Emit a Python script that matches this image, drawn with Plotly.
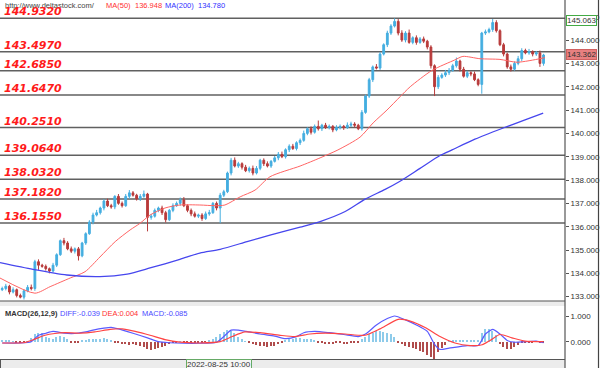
import plotly.graph_objects as go

# ---------------- data ----------------
closes = [
    133.35, 133.45, 133.20, 133.30, 133.05, 132.98, 133.25, 133.40, 133.35, 134.50,
    134.35, 134.30, 134.20, 134.10, 134.35, 134.80, 135.40, 135.30, 135.05, 134.95,
    135.05, 134.75, 135.30, 135.70, 136.20, 136.50, 136.60, 136.80, 137.10, 136.90,
    136.85, 137.30, 137.00, 136.90, 137.30, 137.45, 137.35, 137.20, 137.30, 137.40,
    136.40, 136.45, 136.70, 136.80, 136.60, 136.30, 136.70, 136.90, 137.00, 137.15,
    136.90, 136.70, 136.55, 136.45, 136.50, 136.35, 136.55, 136.60, 137.00, 136.80,
    137.35, 137.50, 138.30, 138.85, 138.60, 138.70, 138.55, 138.40, 138.50, 138.30,
    138.50, 138.85, 138.70, 138.60, 138.80, 138.95, 139.10, 139.00, 139.30, 139.45,
    139.35, 139.60, 139.70, 140.00, 140.20, 140.05, 140.30, 140.20, 140.35, 140.25,
    140.30, 140.15, 140.25, 140.30, 140.25, 140.35, 140.40, 140.35, 140.20, 140.90,
    141.60, 142.30, 142.85, 142.80, 143.40, 143.80, 144.30, 144.60, 144.80, 144.30,
    144.00, 144.30, 143.90, 144.10, 143.90, 144.05, 143.95, 143.70, 142.90, 142.00,
    142.40, 142.50, 142.60, 142.70, 142.90, 143.10, 142.75, 142.45, 142.60, 142.55,
    142.30, 142.10, 144.30, 144.35, 144.45, 144.75, 144.40, 143.80, 143.40, 142.85,
    142.75, 143.00, 143.20, 143.55, 143.45, 143.50, 143.40, 143.45, 143.00, 143.36,
]
first_open = 133.30

upper_wick = [
    0.08, 0.10, 0.06, 0.10, 0.05, 0.08, 0.06, 0.10, 0.12, 0.08,
    0.10, 0.06, 0.08, 0.05, 0.10, 0.06, 0.05, 0.12, 0.08, 0.10,
    0.06, 0.08, 0.05, 0.06, 0.08, 0.10, 0.12, 0.06, 0.08, 0.10,
    0.08, 0.05, 0.10, 0.08, 0.10, 0.12, 0.08, 0.06, 0.10, 0.15,
    0.05, 0.10, 0.08, 0.06, 0.10, 0.08, 0.06, 0.10, 0.08, 0.10,
    0.12, 0.06, 0.08, 0.10, 0.06, 0.08, 0.10, 0.12, 0.06, 0.08,
    0.10, 0.08, 0.06, 0.10, 0.12, 0.08, 0.06, 0.10, 0.08, 0.12,
    0.10, 0.06, 0.08, 0.10, 0.06, 0.08, 0.10, 0.12, 0.06, 0.08,
    0.10, 0.06, 0.08, 0.12, 0.06, 0.10, 0.08, 0.25, 0.06, 0.10,
    0.08, 0.06, 0.10, 0.08, 0.06, 0.12, 0.10, 0.08, 0.06, 0.10,
    0.06, 0.08, 0.06, 0.12, 0.08, 0.06, 0.10, 0.08, 0.13, 0.10,
    0.12, 0.08, 0.15, 0.06, 0.10, 0.08, 0.10, 0.06, 0.08, 0.06,
    0.10, 0.08, 0.12, 0.10, 0.08, 0.15, 0.06, 0.10, 0.08, 0.06,
    0.10, 0.06, 0.05, 0.10, 0.08, 0.15, 0.10, 0.06, 0.08, 0.06,
    0.10, 0.08, 0.12, 0.10, 0.08, 0.12, 0.06, 0.08, 0.10, 0.05,
]
lower_wick = [
    0.06, 0.08, 0.10, 0.06, 0.08, 0.05, 0.10, 0.06, 0.08, 0.10,
    0.20, 0.06, 0.08, 0.10, 0.06, 0.08, 0.05, 0.10, 0.06, 0.08,
    0.10, 0.20, 0.06, 0.08, 0.05, 0.10, 0.06, 0.08, 0.10, 0.06,
    0.08, 0.10, 0.06, 0.08, 0.05, 0.10, 0.06, 0.08, 0.10, 0.06,
    0.60, 0.10, 0.06, 0.08, 0.10, 0.12, 0.06, 0.08, 0.05, 0.10,
    0.06, 0.08, 0.10, 0.06, 0.08, 0.10, 0.06, 0.08, 0.05, 0.10,
    0.65, 0.08, 0.06, 0.10, 0.06, 0.08, 0.10, 0.06, 0.08, 0.10,
    0.06, 0.08, 0.10, 0.06, 0.08, 0.05, 0.10, 0.06, 0.08, 0.10,
    0.06, 0.08, 0.10, 0.06, 0.08, 0.10, 0.06, 0.08, 0.10, 0.06,
    0.08, 0.10, 0.06, 0.08, 0.10, 0.06, 0.08, 0.10, 0.06, 0.08,
    0.06, 0.08, 0.10, 0.06, 0.08, 0.06, 0.10, 0.08, 0.06, 0.10,
    0.08, 0.10, 0.06, 0.08, 0.10, 0.06, 0.08, 0.10, 0.12, 0.40,
    0.10, 0.06, 0.08, 0.10, 0.06, 0.08, 0.10, 0.06, 0.08, 0.10,
    0.06, 0.08, 0.40, 0.08, 0.06, 0.10, 0.08, 0.06, 0.10, 0.08,
    0.10, 0.06, 0.08, 0.10, 0.06, 0.08, 0.10, 0.08, 0.15, 0.10,
]

ma50_x = [-0.6, 9.0, 13.2, 18.7, 22.8, 26.9, 31.1, 35.2, 37.9, 40.7,
          44.8, 48.9, 54.4, 58.6, 61.3, 65.5, 69.6, 73.7, 82.0, 87.5,
          92.4, 98.5, 102.1, 105.9, 109.5, 112.3, 118.3, 124.6, 126.8, 131.5,
          137.0, 141.7, 148.0, 149.4]
ma50_v = [133.80, 133.15, 133.43, 133.80, 134.07, 134.70, 135.36, 135.86, 136.14, 136.50,
          136.80, 136.93, 136.93, 136.90, 136.93, 137.28, 137.57, 138.14, 138.60, 138.95,
          139.29, 139.84, 140.45, 141.00, 141.57, 142.00, 142.70, 143.15, 143.30, 143.20,
          143.17, 143.05, 143.20, 143.25]

ma200_x = [-0.6, 8.5, 17.8, 26.9, 34.4, 40.7, 48.9, 54.4, 60.0, 67.4,
           73.7, 82.0, 87.5, 94.4, 99.9, 105.4, 109.5, 115.0, 120.5, 123.8,
           130.1, 137.9, 143.9, 148.9]
ma200_v = [134.46, 134.17, 133.93, 133.86, 133.97, 134.23, 134.60, 134.87, 135.03, 135.36,
           135.64, 135.98, 136.22, 136.65, 137.18, 137.60, 137.95, 138.50, 139.05, 139.29,
           139.75, 140.23, 140.58, 140.87]

levels = [144.9320, 143.4970, 142.6850, 141.6470, 140.2510,
          139.0640, 138.0320, 137.1820, 136.1550]

macd_hist = [
    0.06, 0.05, 0.04, 0.02, -0.02, -0.03, -0.01, 0.02, 0.15, 0.30,
    0.35, 0.32, 0.20, 0.15, 0.12, 0.18, 0.22, 0.20, 0.12, -0.02,
    -0.05, -0.04, 0.05, 0.08, 0.10, 0.12, 0.10, 0.12, 0.15, 0.12,
    0.08, -0.03, -0.06, -0.08, -0.10, -0.12, -0.10, -0.12, -0.15, -0.20,
    -0.28, -0.32, -0.30, -0.25, -0.20, -0.15, -0.08, -0.05, -0.03, 0.02,
    -0.02, -0.03, -0.04, -0.03, -0.02, -0.03, -0.01, 0.05, 0.12, 0.20,
    0.30, 0.38, 0.45, 0.42, 0.35, 0.20, 0.10, 0.02, -0.05, -0.10,
    -0.12, -0.15, -0.18, -0.20, -0.17, -0.15, -0.10, -0.05, 0.05, 0.10,
    0.12, 0.15, 0.15, 0.12, 0.12, 0.10, 0.08, -0.03, -0.05, -0.08,
    -0.10, -0.08, -0.06, -0.05, -0.08, -0.10, -0.06, -0.04, -0.02, 0.10,
    0.20, 0.30, 0.35, 0.40, 0.42, 0.38, 0.35, 0.30, 0.20, -0.05,
    -0.10, -0.15, -0.20, -0.25, -0.30, -0.35, -0.40, -0.50, -0.60, -0.68,
    -0.40, -0.25, -0.12, 0.02, 0.04, 0.05, 0.06, 0.05, 0.04, 0.05,
    0.04, 0.03, 0.35, 0.50, 0.48, 0.40, 0.25, -0.10, -0.20, -0.30,
    -0.28, -0.20, -0.12, -0.06, -0.04, -0.02, -0.03, 0.02, -0.04, -0.03,
]

diff_x = [0, 5, 8, 10, 12, 14, 17, 20, 23, 25, 28, 30, 32, 36, 40, 43, 46, 50, 54, 59,
          61, 63, 65, 68, 71, 75, 78, 81, 83, 86, 90, 94, 98, 100, 103, 106, 108, 111, 114, 117,
          119, 120.5, 123, 128, 131, 133, 135, 137, 139, 141, 144, 147, 149]
diff_v = [-0.05, -0.05, 0.0, 0.25, 0.33, 0.40, 0.33, 0.32, 0.38, 0.45,
          0.53, 0.56, 0.50, 0.33, 0.15, 0.0, -0.04, -0.06, -0.06, -0.02,
          0.20, 0.45, 0.45, 0.38, 0.30, 0.22, 0.12, 0.20, 0.35, 0.40,
          0.35, 0.28, 0.20, 0.30, 0.65, 0.90, 1.00, 0.85, 0.65, 0.40,
          -0.10, -0.30, -0.25, -0.15, -0.15, 0.30, 0.48, 0.30, 0.05, -0.02,
          0.0, 0.02, -0.04]
dea_x = [0, 6.3, 9, 11.8, 14.5, 17.3, 21.4, 25.5, 29.7, 33,
         36.6, 40.7, 44.8, 48.9, 54.4, 60, 63.3, 66.8, 71, 76.5,
         80.6, 84.7, 88.9, 94.4, 99.9, 104, 109, 112.3, 116.4, 120.5,
         124.6, 128.8, 132.1, 134.3, 137, 140.3, 143.9, 148.9]
dea_v = [-0.05, -0.03, 0.10, 0.25, 0.32, 0.35, 0.33, 0.38, 0.48, 0.50,
         0.40, 0.25, 0.08, -0.02, -0.05, 0.0, 0.20, 0.38, 0.35, 0.25,
         0.20, 0.30, 0.33, 0.30, 0.25, 0.50, 0.87, 0.80, 0.55, 0.20,
         -0.05, -0.15, -0.12, 0.05, 0.28, 0.15, 0.02, 0.0]

# ---------------- build ----------------
W, H = 600, 368
n = len(closes)
idx = list(range(n))
opens = [first_open] + closes[:-1]
highs = [round(max(o, c) + u, 3) for o, c, u in zip(opens, closes, upper_wick)]
lows = [round(min(o, c) - d, 3) for o, c, d in zip(opens, closes, lower_wick)]

XR = [-0.6, 154.9]
XD = [0, 565 / W]

def py(p):  # pixel row -> paper y
    return 1 - p / H

UP, DN = '#45aee0', '#b83a3a'

fig = go.Figure()
fig.add_trace(go.Candlestick(
    x=idx, open=opens, high=highs, low=lows, close=closes,
    xaxis='x', yaxis='y', whiskerwidth=0,
    increasing=dict(line=dict(color=UP, width=1), fillcolor=UP),
    decreasing=dict(line=dict(color=DN, width=1), fillcolor=DN),
    hoverinfo='skip', showlegend=False))
fig.add_trace(go.Scatter(x=ma50_x, y=ma50_v, mode='lines', xaxis='x', yaxis='y',
                         line=dict(color='#ff6464', width=1, shape='spline', smoothing=0.7),
                         hoverinfo='skip', showlegend=False))
fig.add_trace(go.Scatter(x=ma200_x, y=ma200_v, mode='lines', xaxis='x', yaxis='y',
                         line=dict(color='#4646ee', width=1.3, shape='spline', smoothing=0.7),
                         hoverinfo='skip', showlegend=False))

hist_colors = ['#8ecbea' if v >= 0 else '#b04c4c' for v in macd_hist]
fig.add_trace(go.Bar(x=idx, y=macd_hist, marker=dict(color=hist_colors, line=dict(width=0)),
                     width=0.4, xaxis='x2', yaxis='y2', hoverinfo='skip', showlegend=False))
fig.add_trace(go.Scatter(x=diff_x, y=diff_v, mode='lines', xaxis='x2', yaxis='y2',
                         line=dict(color='#5a5aff', width=1.2, shape='spline', smoothing=0.6),
                         hoverinfo='skip', showlegend=False))
fig.add_trace(go.Scatter(x=dea_x, y=dea_v, mode='lines', xaxis='x2', yaxis='y2',
                         line=dict(color='#ff4444', width=1.2, shape='spline', smoothing=0.6),
                         hoverinfo='skip', showlegend=False))

shapes = []
shapes.append(dict(type='rect', xref='paper', yref='paper', x0=0, x1=565 / W, y0=py(306), y1=py(301),
                   fillcolor='#ececec', line=dict(width=0), layer='below'))
shapes.append(dict(type='rect', xref='paper', yref='paper', x0=0, x1=565 / W, y0=0, y1=py(359.5),
                   fillcolor='#ececec', line=dict(width=0), layer='below'))
for yy in (301, 359.5):
    shapes.append(dict(type='line', xref='paper', yref='paper', x0=0, x1=565 / W, y0=py(yy), y1=py(yy),
                       line=dict(color='#555555', width=1.2)))
shapes.append(dict(type='line', xref='paper', yref='paper', x0=565 / W, x1=565 / W, y0=0, y1=1,
                   line=dict(color='#555555', width=1.2)))
shapes.append(dict(type='line', xref='paper', yref='paper', x0=598.5 / W, x1=598.5 / W, y0=0, y1=1,
                   line=dict(color='#444444', width=1.2)))
shapes.append(dict(type='line', xref='paper', yref='paper', x0=0.5 / W, x1=0.5 / W, y0=0, y1=py(359.5),
                   line=dict(color='#555555', width=1)))
for lv in levels:
    shapes.append(dict(type='line', xref='paper', yref='y', x0=0, x1=565 / W, y0=lv, y1=lv,
                       line=dict(color='#606060', width=1.5), layer='below'))

ann = []
small = dict(family='Liberation Sans, Arial, sans-serif', size=7.5)
def txt(x, ypix, s, color, **kw):
    ann.append(dict(xref='paper', yref='paper', x=x / W, y=py(ypix), text=s, showarrow=False,
                    xanchor='left', yanchor='middle', font=dict(small, color=color), **kw))

txt(3, 5, 'http://www.deltastock.com/', '#444444')
txt(104, 5, 'MA(50)', '#ff3030')
txt(133, 5, '136.948', '#ff3030')
txt(163, 5, 'MA(200)', '#3030ff')
txt(196, 5, '134.780', '#3030ff')

txt(3, 313, '<b>MACD(26,12,9)</b>', '#333333')
txt(58, 313, 'DIFF:-0.039', '#4a4aff')
txt(100, 313, 'DEA:0.004', '#ff3030')
txt(140, 313, 'MACD:-0.085', '#4a4aff')

for lv in levels:
    ann.append(dict(xref='paper', yref='y', x=3 / W, y=lv, text=f'{lv:.4f}', showarrow=False,
                    xanchor='left', yanchor='bottom', yshift=-1, borderpad=0,
                    font=dict(family='DejaVu Sans', size=11, color='#ff1a1a',
                              weight='bold', style='italic')))

ann.append(dict(xref='paper', yref='paper', x=566 / W, y=py(20), text='145.063', showarrow=False,
                xanchor='left', yanchor='middle', bgcolor='#ffffff', bordercolor='#44aa44',
                borderwidth=1, borderpad=0, font=dict(small, size=8, color='#333333')))
ann.append(dict(xref='paper', yref='y', x=566 / W, y=143.362, text='143.362', showarrow=False,
                xanchor='left', yanchor='middle', bgcolor='#e88080', bordercolor='#d06060',
                borderwidth=1, borderpad=0, font=dict(small, size=8, color='#333333')))
ann.append(dict(xref='paper', yref='paper', x=219 / W, y=py(364), text='2022-08-25 10:00',
                showarrow=False, xanchor='center', yanchor='middle', bgcolor='#f6f6f6',
                bordercolor='#66aa66', borderwidth=1, borderpad=0,
                font=dict(small, size=8, color='#333333')))

axis_common = dict(side='right', showgrid=False, zeroline=False, showline=False,
                   ticks='outside', ticklen=3, tickcolor='#555555', tickformat='.3f',
                   tickfont=dict(family='Liberation Sans, Arial, sans-serif', size=8, color='#333333'),
                   automargin=False, fixedrange=True)

fig.update_layout(
    width=W, height=H, margin=dict(l=0, r=0, t=0, b=0, pad=0),
    paper_bgcolor='white', plot_bgcolor='white', hovermode=False, showlegend=False,
    bargap=0,
    xaxis=dict(domain=XD, range=XR, visible=False, anchor='y', rangeslider=dict(visible=False),
               fixedrange=True),
    xaxis2=dict(domain=XD, range=XR, visible=False, anchor='y2', fixedrange=True),
    yaxis=dict(axis_common, domain=[py(301), 1], range=[132.815, 145.717], anchor='x',
               tick0=0, dtick=1),
    yaxis2=dict(axis_common, domain=[py(359), py(306)], range=[-0.673, 1.389], anchor='x2',
                tickvals=[0, 1]),
    shapes=shapes, annotations=ann,
)

fig.write_html('out.html', config=dict(displayModeBar=False),
               post_script="document.body.style.margin='0';document.body.style.padding='0';"
                           "document.body.style.overflow='hidden';")
